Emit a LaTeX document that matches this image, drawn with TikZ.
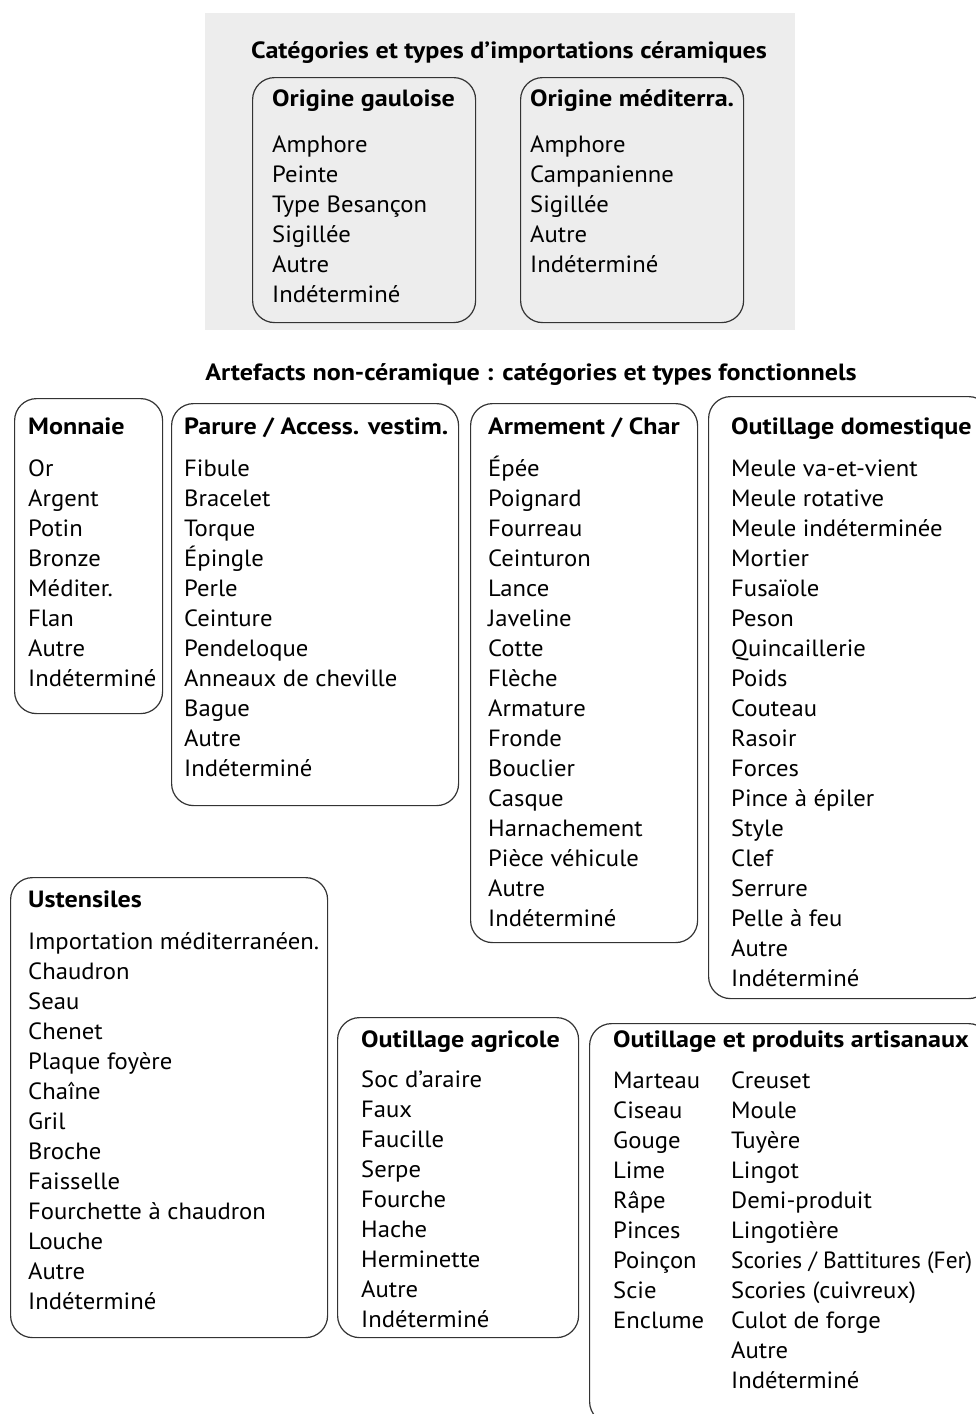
\documentclass[tikz,border=0pt]{standalone}
\usepackage{fontspec}
\setmainfont{PT Sans}[FakeStretch=1.05, BoldFeatures={FakeStretch=1.11}]
\newcommand{\mylist}[1]{\begin{tabular}[t]{@{}l@{}}#1\end{tabular}}
\begin{document}
\begin{tikzpicture}[x=1pt,y=-1pt,
  box/.style={draw=black!80, line width=1.2pt, rounded corners=22pt, inner sep=0pt, anchor=north west},
  ttl/.style={anchor=base west, inner sep=0pt, font=\bfseries\fontsize{23.5}{30}\selectfont},
  lst/.style={anchor=base west, inner sep=0pt, font=\fontsize{23.5}{30}\selectfont},
  head/.style={anchor=base, inner sep=0pt, font=\bfseries\fontsize{23.5}{30}\selectfont},
]
\useasboundingbox (0,0) rectangle (976,1414);
\clip (0,0) rectangle (976,1414);
\fill[fill=black!7] (205,13) rectangle (795,330);
\node[head] (h1) at (509,58) {Catégories et types d’importations céramiques};
\node[box, minimum width=223, minimum height=245] (gau) at (252,77) {};
\node[ttl] (gaut) at (272,106) {Origine gauloise};
\node[lst] (gaul) at (272,152) {\mylist{Amphore\\Peinte\\Type Besançon\\Sigillée\\Autre\\Indéterminé}};
\node[box, minimum width=223, minimum height=245] (med) at (520,77) {};
\node[ttl] (medt) at (530,106) {Origine méditerra.};
\node[lst] (medl) at (530,152) {\mylist{Amphore\\Campanienne\\Sigillée\\Autre\\Indéterminé}};
\node[head] (h2) at (531,380) {Artefacts non-céramique : catégories et types fonctionnels};
\node[box, minimum width=148, minimum height=315] (mon) at (14,398) {};
\node[ttl] (mont) at (28,434) {Monnaie};
\node[lst] (monl) at (28,476) {\mylist{Or\\Argent\\Potin\\Bronze\\Méditer.\\Flan\\Autre\\Indéterminé}};
\node[box, minimum width=287, minimum height=402] (par) at (171,403) {};
\node[ttl] (part) at (184,434) {Parure / Access. vestim.};
\node[lst] (parl) at (184,476) {\mylist{Fibule\\Bracelet\\Torque\\Épingle\\Perle\\Ceinture\\Pendeloque\\Anneaux de cheville\\Bague\\Autre\\Indéterminé}};
\node[box, minimum width=227, minimum height=539] (arm) at (470,403) {};
\node[ttl] (armt) at (488,434) {Armement / Char};
\node[lst] (arml) at (488,476) {\mylist{Épée\\Poignard\\Fourreau\\Ceinturon\\Lance\\Javeline\\Cotte\\Flèche\\Armature\\Fronde\\Bouclier\\Casque\\Harnachement\\Pièce véhicule\\Autre\\Indéterminé}};
\node[box, minimum width=282, minimum height=602] (dom) at (708,396) {};
\node[ttl] (domt) at (731,434) {Outillage domestique};
\node[lst] (doml) at (731,476) {\mylist{Meule va-et-vient\\Meule rotative\\Meule indéterminée\\Mortier\\Fusaïole\\Peson\\Quincaillerie\\Poids\\Couteau\\Rasoir\\Forces\\Pince à épiler\\Style\\Clef\\Serrure\\Pelle à feu\\Autre\\Indéterminé}};
\node[box, minimum width=317, minimum height=460] (ust) at (10,877) {};
\node[ttl] (ustt) at (28,907) {Ustensiles};
\node[lst] (ustl) at (28,949) {\mylist{Importation méditerranéen.\\Chaudron\\Seau\\Chenet\\Plaque foyère\\Chaîne\\Gril\\Broche\\Faisselle\\Fourchette à chaudron\\Louche\\Autre\\Indéterminé}};
\node[box, minimum width=241, minimum height=320] (agr) at (337,1017) {};
\node[ttl] (agrt) at (361,1047) {Outillage agricole};
\node[lst] (agrl) at (361,1087) {\mylist{Soc d’araire\\Faux\\Faucille\\Serpe\\Fourche\\Hache\\Herminette\\Autre\\Indéterminé}};
\node[box, minimum width=401, minimum height=400] (art) at (589,1023) {};
\node[ttl] (artt) at (613,1047) {Outillage et produits artisanaux};
\node[lst] (artl) at (613,1088) {\mylist{Marteau\\Ciseau\\Gouge\\Lime\\Râpe\\Pinces\\Poinçon\\Scie\\Enclume}};
\node[lst] (artr) at (731,1088) {\mylist{Creuset\\Moule\\Tuyère\\Lingot\\Demi-produit\\Lingotière\\\scalebox{0.95}[1]{Scories / Battitures (Fer)}\\Scories (cuivreux)\\Culot de forge\\Autre\\Indéterminé}};
\end{tikzpicture}
\end{document}
